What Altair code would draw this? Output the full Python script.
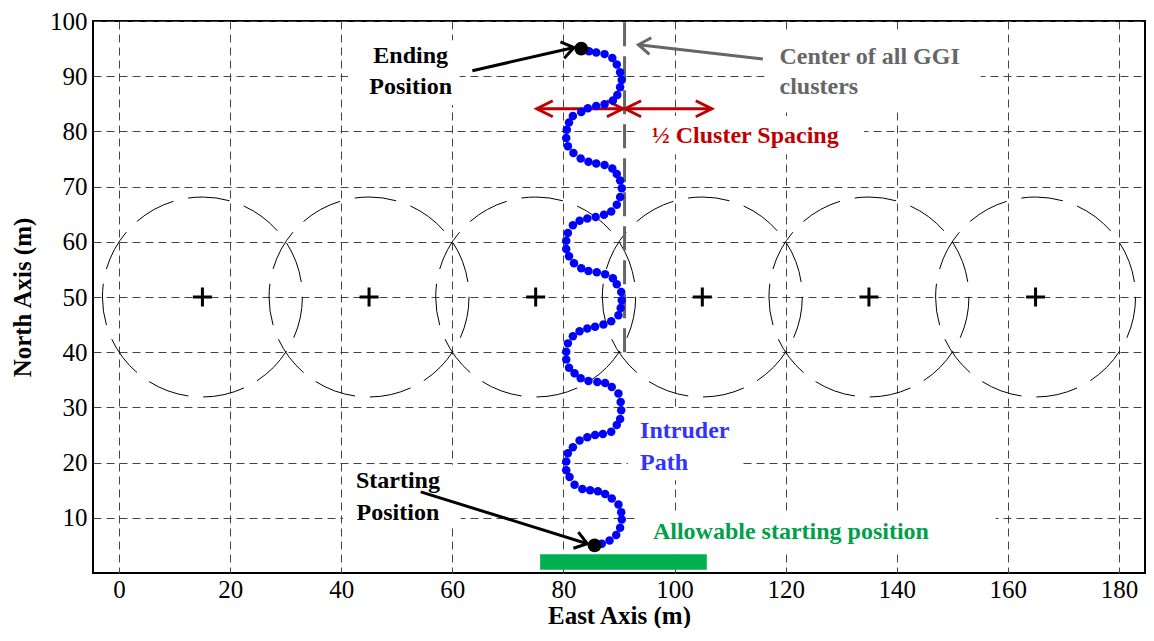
import math
import altair as alt
import pandas as pd

# ---------------- data ----------------
X_MIN, X_MAX = -4.7, 184.7
Y_MIN, Y_MAX = 0, 100
W, H = 1052, 552

x_ticks = [0, 20, 40, 60, 80, 100, 120, 140, 160, 180]
y_ticks = [10, 20, 30, 40, 50, 60, 70, 80, 90, 100]

cluster_x = [15, 45, 75, 105, 135, 165]
cluster_y = [50, 50, 50, 50, 50, 50]
cluster_radius = 18

path_x = [84.6, 85.9, 87.4, 88.8, 89.6, 90.2, 90.5, 90.2, 89.7, 88.9, 87.4, 85.9,
          84.4, 83.2, 81.7, 81.0, 80.6, 80.5, 80.8, 81.8, 83.1,
          84.5, 85.9, 87.4, 88.8, 89.6, 90.2, 90.5, 90.2, 89.6, 88.6, 87.3, 85.8,
          84.3, 82.9, 81.7, 80.8, 80.5, 80.5, 81.0, 81.9, 83.2,
          84.5, 86.0, 87.5, 88.9, 89.6, 90.4, 90.5, 90.3, 89.9, 88.6, 87.2, 85.7,
          84.3, 82.9, 81.7, 80.8, 80.5, 80.5, 81.0, 82.0, 83.1,
          84.5, 86.1, 87.5, 88.7, 89.9, 90.3, 90.4, 90.2, 89.6, 88.6, 87.1, 85.7,
          84.3, 82.9, 81.7, 80.8, 80.5, 80.5, 81.1, 82.0, 83.4,
          84.8, 86.2, 87.5, 88.7, 89.9, 90.4, 90.5, 90.2, 89.5, 88.3, 86.9]
path_y = [94.5, 94.3, 94.0, 93.3, 92.1, 90.7, 89.3, 88.0, 86.6, 85.6, 84.9, 84.6,
          84.2, 83.5, 82.8, 81.6, 80.3, 78.8, 77.3, 76.1, 75.1,
          74.5, 74.2, 73.9, 73.3, 72.3, 71.1, 69.7, 68.1, 66.7, 65.5, 64.9, 64.5,
          64.2, 63.8, 63.0, 61.6, 60.2, 58.7, 57.4, 56.1, 55.2,
          54.7, 54.5, 54.1, 53.4, 52.3, 50.9, 49.4, 48.0, 46.7, 45.6, 45.0, 44.6,
          44.3, 43.8, 42.9, 41.6, 40.1, 38.7, 37.2, 36.2, 35.3,
          34.8, 34.6, 34.4, 33.7, 32.5, 31.0, 29.5, 27.9, 26.8, 25.6, 25.2, 25.0,
          24.6, 24.0, 22.8, 21.7, 20.2, 18.6, 17.4, 16.0, 15.2,
          15.0, 14.8, 14.3, 13.5, 12.4, 11.0, 9.7, 8.2, 6.9, 5.9, 5.3]

end_points_x = [83.2, 85.6]   # ending, starting
end_points_y = [95.0, 5.0]

center_line_x = [91]
center_line_y = [40]
center_line_y2 = [100]

bar_x = [75.8]
bar_x2 = [105.8]
bar_y = [0.6]
bar_y2 = [3.4]

# arrows: (x_start, y_start, x_tip, y_tip)
black_arrows = [(63.6, 91.0, 81.9, 95.2), (54.3, 14.7, 84.3, 5.3)]
gray_arrows = [(115.9, 93.1, 93.5, 95.7)]
red_arrows = [(75.2, 84.1, 90.7, 84.1), (91.1, 84.1, 106.7, 84.1)]

labels_black = ["Ending", "Position", "Starting", "Position"]
labels_black_x = [52.5, 52.5, 50.2, 50.2]
labels_black_y = [93.7, 88.0, 16.6, 10.9]

labels_gray = ["Center of all GGI", "clusters"]
labels_gray_x = [118.9, 118.9]
labels_gray_y = [93.5, 88.0]

labels_red = ["\u00bd Cluster Spacing"]
labels_red_x = [95.9]
labels_red_y = [79.2]

labels_blue = ["Intruder", "Path"]
labels_blue_x = [93.8, 93.8]
labels_blue_y = [25.7, 20.0]

labels_green = ["Allowable starting  position"]
labels_green_x = [96.1]
labels_green_y = [7.5]

# white label boxes that hide the grid behind each annotation
box_x = [41.2, 116.2, 93.2, 91.6, 40.3, 93.0]
box_x2 = [61.3, 155.1, 134.1, 112.0, 61.5, 157.8]
box_y = [84.8, 83.8, 75.8, 16.8, 8.2, 4.2]
box_y2 = [96.5, 98.2, 82.8, 29.3, 19.6, 11.0]

# ---------------- helpers ----------------
SX = W / (X_MAX - X_MIN)
SY = H / (Y_MAX - Y_MIN)
FONT = "Liberation Serif"

xs = alt.Scale(domain=[X_MIN, X_MAX], nice=False, zero=False)
ys = alt.Scale(domain=[Y_MIN, Y_MAX], nice=False, zero=False)

x_axis = alt.Axis(values=x_ticks, grid=True, gridDash=[8, 5], gridColor="#444444",
                  gridWidth=1, ticks=False, domain=False, labelFont=FONT,
                  labelFontSize=25, labelColor="black", labelPadding=4,
                  labelFlush=False, labelOverlap=False,
                  title="East Axis (m)", titleFont=FONT, titleFontSize=25,
                  titleFontWeight="bold", titleColor="black", titleY=42,
                  titleBaseline="middle")
y_axis = alt.Axis(values=y_ticks, grid=True, gridDash=[8, 5], gridColor="#444444",
                  gridWidth=1, ticks=False, domain=False, labelFont=FONT,
                  labelFontSize=25, labelColor="black", labelPadding=6,
                  labelFlush=False, labelOverlap=False,
                  title="North Axis (m)", titleFont=FONT, titleFontSize=25,
                  titleFontWeight="bold", titleColor="black", titleAngle=270,
                  titleX=-71, titleY=H / 2, titleAlign="center",
                  titleBaseline="middle")


def X(f):
    return alt.X(f, type="quantitative", scale=xs, axis=x_axis)


def Y(f):
    return alt.Y(f, type="quantitative", scale=ys, axis=y_axis)


def X2(f):
    return alt.X2(f)


def Y2(f):
    return alt.Y2(f)


# ---------------- layers ----------------
clusters = pd.DataFrame({"x": cluster_x, "y": cluster_y})
circle_diam = 2 * cluster_radius * SX
circles = alt.Chart(clusters).mark_point(
    shape="circle", filled=False, stroke="black", strokeWidth=1,
    strokeDash=[42, 15], size=circle_diam ** 2, opacity=1
).encode(x=X("x"), y=Y("y"))

boxes = alt.Chart(pd.DataFrame({"x": box_x, "x2": box_x2, "y": box_y, "y2": box_y2})
                  ).mark_rect(color="white").encode(
    x=X("x"), x2=X2("x2"), y=Y("y"), y2=Y2("y2"))

crosses = alt.Chart(clusters).mark_point(
    shape="M-1,0L1,0M0,-1L0,1", filled=False, stroke="black", strokeWidth=3,
    size=19 ** 2, opacity=1
).encode(x=X("x"), y=Y("y"))

cl = pd.DataFrame({"x": center_line_x, "y": center_line_y, "y2": center_line_y2})
center_line = alt.Chart(cl).mark_rule(color="#666666", strokeWidth=3,
                                      strokeDash=[24, 10]).encode(
    x=X("x"), y=Y("y"), y2=Y2("y2"))

bar = alt.Chart(pd.DataFrame({"x": bar_x, "x2": bar_x2, "y": bar_y, "y2": bar_y2})
                ).mark_rect(color="#00b050").encode(
    x=X("x"), x2=X2("x2"), y=Y("y"), y2=Y2("y2"))


def arrow_layers(arrows, color, width, double=False, head=24, spread=0.7):
    seg = pd.DataFrame(arrows, columns=["x", "y", "x2", "y2"])
    line = alt.Chart(seg).mark_rule(color=color, strokeWidth=width).encode(
        x=X("x"), y=Y("y"), x2=X2("x2"), y2=Y2("y2"))
    heads = []
    for (xa, ya, xb, yb) in arrows:
        ang = math.degrees(math.atan2(-(yb - ya) * SY, (xb - xa) * SX)) % 360
        heads.append({"x": xb, "y": yb, "a": ang})
        if double:
            heads.append({"x": xa, "y": ya, "a": (ang + 180) % 360})
    hd = alt.Chart(pd.DataFrame(heads)).mark_point(
        shape=f"M-1,-{spread}L0,0L-1,{spread}", filled=False, stroke=color,
        strokeWidth=width, size=head ** 2, opacity=1, strokeJoin="miter"
    ).encode(x=X("x"), y=Y("y"), angle=alt.Angle("a:Q", scale=None))
    return [line, hd]


path = alt.Chart(pd.DataFrame({"x": path_x, "y": path_y})).mark_circle(
    size=72, color="#0000ff", opacity=1).encode(x=X("x"), y=Y("y"))

ends = alt.Chart(pd.DataFrame({"x": end_points_x, "y": end_points_y})).mark_circle(
    size=190, color="black", opacity=1).encode(x=X("x"), y=Y("y"))


def text_layer(texts, tx, ty, color, align):
    df = pd.DataFrame({"t": texts, "x": tx, "y": ty})
    return alt.Chart(df).mark_text(
        font=FONT, fontSize=24, fontWeight="bold", color=color, align=align,
        baseline="middle").encode(x=X("x"), y=Y("y"), text="t:N")


layers = [circles, boxes, crosses, center_line, bar]
layers += arrow_layers(black_arrows, "black", 3)
layers += arrow_layers(gray_arrows, "#666666", 3)
layers += arrow_layers(red_arrows, "#c00000", 3, double=True, head=32, spread=0.5)
layers += [path, ends,
           text_layer(labels_black, labels_black_x, labels_black_y, "black", "center"),
           text_layer(labels_gray, labels_gray_x, labels_gray_y, "#666666", "left"),
           text_layer(labels_red, labels_red_x, labels_red_y, "#c00000", "left"),
           text_layer(labels_blue, labels_blue_x, labels_blue_y, "#3333ff", "left"),
           text_layer(labels_green, labels_green_x, labels_green_y, "#00a04a", "left")]

chart = alt.layer(*layers).properties(
    width=W, height=H,
    padding={"left": 85, "top": 13, "right": 1, "bottom": 55},
    autosize=alt.AutoSizeParams(type="none"),
    background="white",
).configure_view(stroke="black", strokeWidth=2)

chart.save("out.html", embed_options={"renderer": "svg", "actions": False})
